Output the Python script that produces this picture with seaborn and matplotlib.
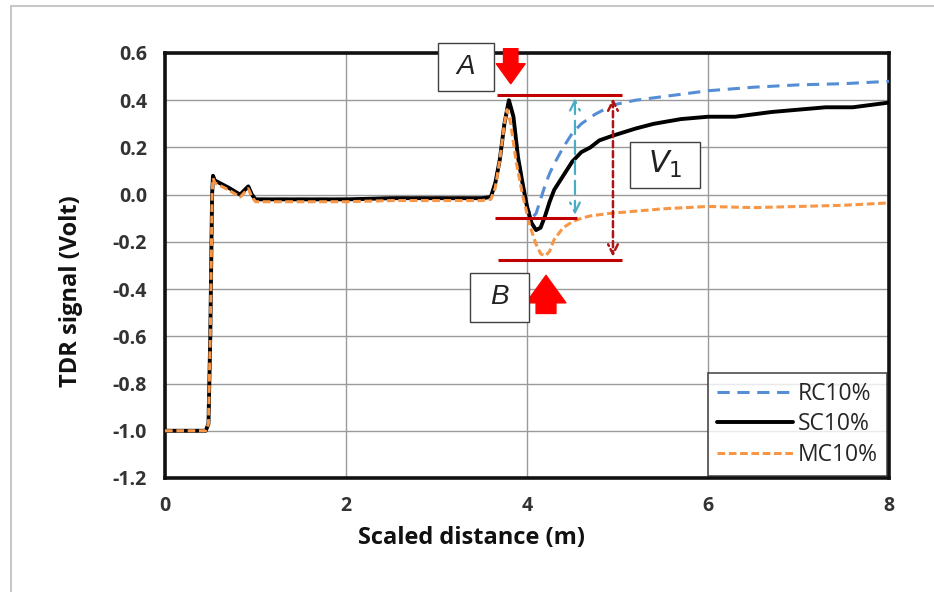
import matplotlib
matplotlib.use("Agg")
import matplotlib.pyplot as plt
import matplotlib.patches as mpatches
import seaborn as sns

# ── Data ──────────────────────────────────────────────────────────────────────
sc_x = [0, 0.45, 0.48, 0.50, 0.52, 0.53, 0.55, 0.7, 0.83, 0.88, 0.92, 0.96, 1.0,
        1.5, 2.0, 2.5, 3.0, 3.5, 3.6, 3.65, 3.7, 3.75, 3.8, 3.85, 3.9, 3.95, 4.0,
        4.05, 4.1, 4.15, 4.2, 4.25, 4.3, 4.4, 4.5, 4.6, 4.7, 4.8, 4.95, 5.2, 5.4,
        5.7, 6.0, 6.3, 6.5, 6.7, 7.0, 7.3, 7.6, 8.0]
sc_y = [-1.0, -1.0, -0.97, -0.6, 0.0, 0.08, 0.06, 0.03, 0.0, 0.02, 0.035, 0.0, -0.02,
        -0.02, -0.02, -0.015, -0.015, -0.015, -0.01, 0.05, 0.15, 0.30, 0.40, 0.33,
        0.16, 0.05, -0.05, -0.12, -0.15, -0.14, -0.09, -0.03, 0.02, 0.08, 0.14,
        0.18, 0.20, 0.23, 0.25, 0.28, 0.30, 0.32, 0.33, 0.33, 0.34, 0.35, 0.36,
        0.37, 0.37, 0.39]

mc_x = [0, 0.45, 0.48, 0.50, 0.52, 0.53, 0.55, 0.7, 0.83, 0.88, 0.92, 0.96, 1.0,
        1.5, 2.0, 2.5, 3.0, 3.5, 3.6, 3.65, 3.7, 3.75, 3.78, 3.82, 3.88, 3.95,
        4.03, 4.1, 4.15, 4.2, 4.25, 4.3, 4.4, 4.5, 4.6, 4.7, 4.9, 5.2, 5.5, 6.0,
        6.5, 7.0, 7.5, 8.0]
mc_y = [-1.0, -1.0, -0.97, -0.6, 0.0, 0.07, 0.05, 0.02, -0.01, 0.01, 0.025, -0.01,
        -0.03, -0.03, -0.03, -0.025, -0.025, -0.025, -0.02, 0.03, 0.15, 0.30, 0.36,
        0.30, 0.14, 0.0, -0.13, -0.21, -0.25, -0.26, -0.24, -0.19, -0.14, -0.115,
        -0.10, -0.09, -0.08, -0.07, -0.06, -0.05, -0.055, -0.05, -0.045, -0.035]

rc_x = [0, 0.45, 0.48, 0.50, 0.52, 0.53, 0.55, 0.7, 0.83, 0.88, 0.92, 0.96, 1.0,
        1.5, 2.0, 2.5, 3.0, 3.5, 3.6, 3.65, 3.7, 3.75, 3.8, 3.85, 3.9, 3.95, 4.0,
        4.05, 4.1, 4.15, 4.2, 4.25, 4.3, 4.4, 4.5, 4.6, 4.75, 4.95, 5.2, 5.6, 6.0,
        6.5, 7.0, 7.5, 8.0]
rc_y = [-1.0, -1.0, -0.97, -0.6, 0.0, 0.08, 0.06, 0.03, 0.0, 0.02, 0.035, 0.0, -0.02,
        -0.02, -0.02, -0.015, -0.015, -0.015, -0.01, 0.05, 0.15, 0.30, 0.40, 0.33,
        0.16, 0.05, -0.05, -0.10, -0.08, -0.02, 0.04, 0.09, 0.13, 0.20, 0.26, 0.30,
        0.34, 0.38, 0.40, 0.42, 0.44, 0.455, 0.465, 0.47, 0.48]

x_ticks = [0, 2, 4, 6, 8]
y_ticks = [-1.2, -1.0, -0.8, -0.6, -0.4, -0.2, 0.0, 0.2, 0.4, 0.6]

level_A = 0.42    # peak level
level_mid = -0.097
level_B = -0.275

# ── Style ─────────────────────────────────────────────────────────────────────
sns.set_style("white")
plt.rcParams["font.family"] = ["Open Sans", "DejaVu Sans"]
plt.rcParams["mathtext.fontset"] = "dejavusans"

fig = plt.figure(figsize=(9.34, 5.92), dpi=100)
ax = fig.add_axes([0.1767, 0.1926, 0.7751, 0.7179])

# outer frame of the pasted picture (left + top edges only)
fig.add_artist(plt.Line2D([11 / 934, 11 / 934], [0, 1 - 6 / 592], transform=fig.transFigure,
                          color="#c8c8c8", lw=1.5))
fig.add_artist(plt.Line2D([11 / 934, 1], [1 - 6 / 592, 1 - 6 / 592], transform=fig.transFigure,
                          color="#c8c8c8", lw=1.5))

# ── Curves ────────────────────────────────────────────────────────────────────
sns.lineplot(x=rc_x, y=rc_y, ax=ax, color="#558ED5", lw=2.2,
             linestyle=(0, (4, 2.5)), label="RC10%", sort=False, zorder=3)
sns.lineplot(x=sc_x, y=sc_y, ax=ax, color="black", lw=2.8, label="SC10%",
             sort=False, zorder=4)
sns.lineplot(x=mc_x, y=mc_y, ax=ax, color="#F79646", lw=2.2,
             linestyle=(0, (2.5, 1.2)), label="MC10%", sort=False, zorder=5)

# ── Annotations ───────────────────────────────────────────────────────────────
red = "#C00000"
ax.hlines(level_A, 3.67, 5.05, color=red, lw=2.2, zorder=6)
ax.hlines(level_mid, 3.65, 4.55, color=red, lw=2.2, zorder=6)
ax.hlines(level_B, 3.68, 5.05, color=red, lw=2.2, zorder=6)

ax.annotate("", xy=(4.95, level_B), xytext=(4.95, level_A),
            arrowprops=dict(arrowstyle="<->,head_length=0.7,head_width=0.35",
                            color="#B01515", lw=1.8, linestyle=(0, (2.5, 1.5))), zorder=6)
ax.annotate("", xy=(4.53, level_mid), xytext=(4.53, level_A),
            arrowprops=dict(arrowstyle="<->,head_length=0.7,head_width=0.35",
                            color="#4BACC6", lw=1.6, linestyle=(0, (6, 3))), zorder=6)

# fat red arrows
fat = "simple,head_width=1.3,head_length=0.9,tail_width=0.65"
ax.annotate("", xy=(3.82, 0.458), xytext=(3.82, 0.63),
            arrowprops=dict(arrowstyle=fat, color="#FF0000", mutation_scale=16),
            annotation_clip=False, zorder=7)
ax.annotate("", xy=(4.21, -0.33), xytext=(4.21, -0.515),
            arrowprops=dict(arrowstyle=fat, color="#FF0000", mutation_scale=22),
            annotation_clip=False, zorder=7)

# labelled boxes
for (x0, x1, y0, y1, txt, fs) in [(3.017, 3.635, 0.441, 0.644, "A", 20),
                                  (3.37, 4.02, -0.538, -0.331, "B", 20),
                                  (5.14, 5.91, 0.030, 0.225, r"$\mathit{V_1}$", 22)]:
    ax.add_patch(mpatches.Rectangle((x0, y0), x1 - x0, y1 - y0, fill=True,
                                    facecolor="white", edgecolor="#404040",
                                    lw=1.0, clip_on=False, zorder=8))
    ax.text((x0 + x1) / 2, (y0 + y1) / 2, txt, ha="center", va="center",
            fontsize=fs, style="italic", color="#222222", zorder=9,
            family=["Liberation Sans", "DejaVu Sans"])

# ── Axes ──────────────────────────────────────────────────────────────────────
ax.set_xlim(0, 8)
ax.set_ylim(-1.2, 0.6)
ax.set_xticks(x_ticks)
ax.set_yticks(y_ticks)
ax.set_xticklabels([str(t) for t in x_ticks])
ax.set_yticklabels([f"{t:.1f}" for t in y_ticks])
ax.grid(True, color="#9a9a9a", lw=1.0)
ax.set_axisbelow(True)
for s in ax.spines.values():
    s.set_visible(True)
    s.set_color("#111111")
    s.set_linewidth(2.6)
ax.tick_params(axis="both", direction="out", length=6, width=1, color="#9a9a9a",
               labelsize=14, labelcolor="#333333", pad=7)
for lab in ax.get_xticklabels() + ax.get_yticklabels():
    lab.set_fontweight("bold")

ax.set_xlabel("Scaled distance (m)", fontsize=17, fontweight="bold", color="#111111")
ax.set_ylabel("TDR signal (Volt)", fontsize=17, fontweight="bold", color="#111111")
ax.xaxis.set_label_coords(0.423, -0.112)
ax.yaxis.set_label_coords(-0.113, 0.44)

leg = ax.legend(loc="lower right", fontsize=16.5, frameon=True, fancybox=False,
                edgecolor="#222222", borderaxespad=0.1, handlelength=3.3,
                handletextpad=0.2, labelspacing=0.28, borderpad=0.4)
leg.get_frame().set_linewidth(1.2)
leg.set_zorder(10)

fig.savefig("out.png", dpi=100)
